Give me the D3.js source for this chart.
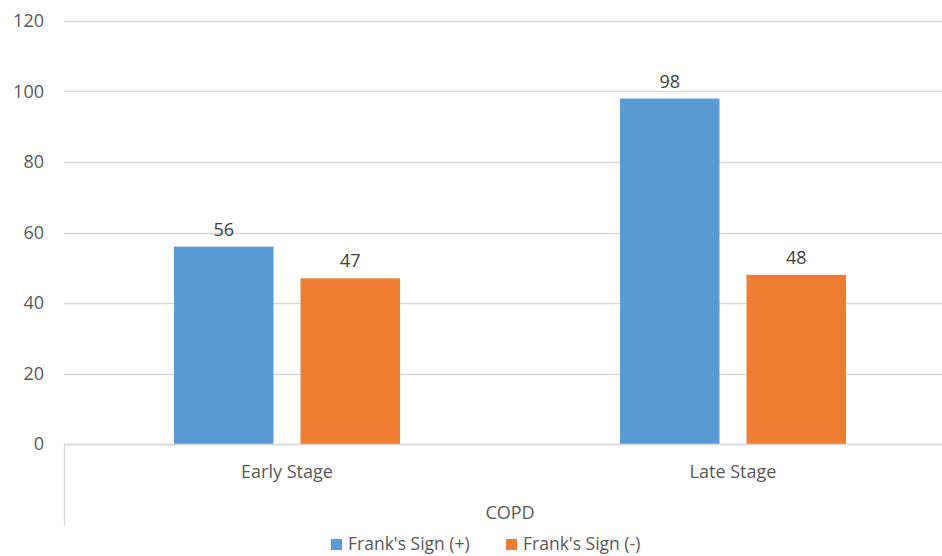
<!DOCTYPE html>
<html>
<head>
<meta charset="utf-8">
<script src="https://cdn.jsdelivr.net/npm/d3@7"></script>
<style>
  html, body { margin: 0; padding: 0; background: #fff; }
  svg { display: block; font-family: "Open Sans", "Noto Sans", sans-serif; }
</style>
</head>
<body>
<svg id="chart" width="942" height="556"></svg>
<script>
// Chart data
const categories = ["Early Stage", "Late Stage"];
const groupLabel = "COPD";
const seriesNames = ["Frank's Sign (+)", "Frank's Sign (-)"];
const positiveValues = [56, 98];
const negativeValues = [47, 48];
const yTicks = [0, 20, 40, 60, 80, 100, 120];

const colors = ["#5B9BD5", "#ED7D31"];
const textColor = "#595959";
const gridColor = "#D9D9D9";

const rows = categories.map((c, i) => ({
  category: c,
  values: [positiveValues[i], negativeValues[i]]
}));

const svg = d3.select("#chart");

// Plot area (extends slightly beyond the right edge of the canvas)
const plotLeft = 64, plotRight = 956, plotTop = 21, plotBottom = 444;

const x0 = d3.scaleBand().domain(categories).range([plotLeft, plotRight]).paddingInner(0).paddingOuter(0);
const x1 = d3.scaleBand().domain(d3.range(seriesNames.length)).range([0, x0.bandwidth()])
  .paddingInner(0.2134).paddingOuter(0.8696);
const y = d3.scaleLinear().domain([0, 120]).range([plotBottom, plotTop]);

// Gridlines
svg.append("g")
  .selectAll("line")
  .data(yTicks)
  .join("line")
  .attr("x1", plotLeft).attr("x2", plotRight)
  .attr("y1", d => Math.round(y(d)) + 0.5).attr("y2", d => Math.round(y(d)) + 0.5)
  .attr("stroke", gridColor).attr("stroke-width", 1.3);

// Y axis labels
const yAxis = d3.axisLeft(y).tickValues(yTicks).tickSize(0).tickPadding(0);
const yg = svg.append("g").attr("transform", `translate(${plotLeft - 20},0)`).call(yAxis);
yg.select(".domain").remove();
yg.selectAll("text").attr("fill", textColor).style("font-size", "18px")
  .style("font-family", "'Open Sans', sans-serif");

// Bars
const groups = svg.append("g").selectAll("g")
  .data(rows)
  .join("g")
  .attr("transform", d => `translate(${x0(d.category)},0)`);

groups.selectAll("rect")
  .data(d => d.values.map((v, k) => ({ k, v })))
  .join("rect")
  .attr("x", d => x1(d.k))
  .attr("width", x1.bandwidth())
  .attr("y", d => y(d.v))
  .attr("height", d => y(0) - y(d.v))
  .attr("fill", d => colors[d.k]);

// Value labels
groups.selectAll("text.value")
  .data(d => d.values.map((v, k) => ({ k, v })))
  .join("text")
  .attr("class", "value")
  .attr("x", d => x1(d.k) + x1.bandwidth() / 2)
  .attr("y", d => y(d.v) - 11)
  .attr("text-anchor", "middle")
  .attr("fill", "#404040")
  .style("font-size", "18px")
  .text(d => d.v);

// Baseline
svg.append("line")
  .attr("x1", plotLeft).attr("x2", plotRight)
  .attr("y1", plotBottom + 0.5).attr("y2", plotBottom + 0.5)
  .attr("stroke", gridColor).attr("stroke-width", 1.3);

// Multi-level category axis: divider lines
svg.append("line")
  .attr("x1", plotLeft + 0.5).attr("x2", plotLeft + 0.5)
  .attr("y1", plotBottom).attr("y2", 525)
  .attr("stroke", gridColor).attr("stroke-width", 1.3);
svg.append("line")
  .attr("x1", plotRight - 0.5).attr("x2", plotRight - 0.5)
  .attr("y1", plotBottom).attr("y2", 525)
  .attr("stroke", gridColor).attr("stroke-width", 1.3);

// Category labels
svg.append("g").selectAll("text")
  .data(categories)
  .join("text")
  .attr("x", d => x0(d) + x0.bandwidth() / 2)
  .attr("y", 478)
  .attr("text-anchor", "middle")
  .attr("fill", textColor)
  .style("font-size", "18px")
  .text(d => d);

// Group label
svg.append("text")
  .attr("x", (plotLeft + plotRight) / 2)
  .attr("y", 519)
  .attr("text-anchor", "middle")
  .attr("fill", textColor)
  .style("font-size", "18px")
  .text(groupLabel);

// Legend
const legendItems = [{ x: 331, k: 0 }, { x: 506, k: 1 }];
const lg = svg.append("g").selectAll("g")
  .data(legendItems)
  .join("g")
  .attr("transform", d => `translate(${d.x},0)`);
lg.append("rect")
  .attr("x", 0).attr("y", 539)
  .attr("width", 11).attr("height", 11)
  .attr("fill", d => colors[d.k]);
lg.append("text")
  .attr("x", 17).attr("y", 550)
  .attr("fill", textColor)
  .style("font-size", "17.5px")
  .text(d => seriesNames[d.k]);
</script>
</body>
</html>
